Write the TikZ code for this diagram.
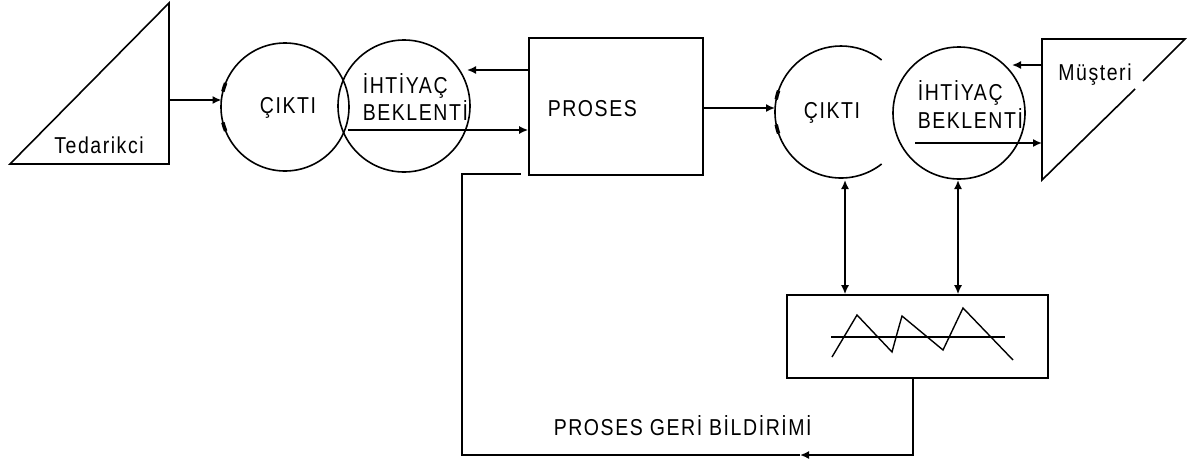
\documentclass[tikz,border=0pt]{standalone}
\usepackage{fontspec}
\setmainfont[LetterSpace=8]{Liberation Sans}
\usetikzlibrary{arrows.meta}
\newcommand{\tall}[1]{\scalebox{1}[1.18]{#1}}
\begin{document}
\begin{tikzpicture}[x=1pt,y=-1pt,line width=1.6pt,
  lbl/.style={font=\fontsize{19.5}{22}\selectfont,inner sep=0pt},
  arr/.style={-{Latex[length=9pt,width=8pt]}},
  darr/.style={{Latex[length=9pt,width=8pt]}-{Latex[length=9pt,width=8pt]}},
  bubble/.style={draw,circle,inner sep=0pt,minimum size=#1},
  box/.style={draw,rectangle,inner sep=0pt},
  notch/.style={line width=3.5pt}]
\useasboundingbox (0,0) rectangle (1199,464);

% Tedarikci
\draw (169,3) -- (10,164) -- (169,164) -- cycle;
\node[lbl] (ted) at (99,145) {\tall{Tedarikci}};
\coordinate (tedOut) at (169,100);

% left circles
\node[bubble=128pt] (c1) at (285,107) {};
\node[bubble=132pt] (c2) at (404,106) {};
\draw[notch] (c1.center) ++(158:64) arc[start angle=158,end angle=166,radius=64];
\draw[notch] (c1.center) ++(194:64) arc[start angle=194,end angle=202,radius=64];
\node[lbl] (c1t) at (288,108) {\tall{ÇIKTI}};
\node[lbl,anchor=west] (c2a) at (362,86) {\tall{İHTİYAÇ}};
\node[lbl,anchor=west] (c2b) at (362,111) {\tall{BEKLENTİ}};
\coordinate (c1in) at (221.5,100);
\coordinate (c2ln) at (348,130);
\coordinate (c2in) at (467,70);

% PROSES
\node[box,minimum width=174pt,minimum height=137pt] (proc) at (616,106.5) {};
\node[lbl,anchor=west] (proct) at (547,109) {\tall{PROSES}};

% right circles
\coordinate (c3) at (841,112);
\draw (c3) ++(52:66) arc[start angle=52,end angle=308,radius=66];
\draw[notch] (c3) ++(161:66) arc[start angle=161,end angle=169,radius=66];
\draw[notch] (c3) ++(191:66) arc[start angle=191,end angle=199,radius=66];
\node[lbl] (c3t) at (832,113) {\tall{ÇIKTI}};
\coordinate (c3in) at (775,108);
\node[bubble=132pt] (c4) at (959,113) {};
\node[lbl,anchor=west] (c4a) at (917,93) {\tall{İHTİYAÇ}};
\node[lbl,anchor=west] (c4b) at (917,119) {\tall{BEKLENTİ}};
\coordinate (c4ln) at (915,143);
\coordinate (c4in) at (1012,65);

% Musteri
\draw (1143,81) -- (1185,39) -- (1042,39) -- (1042,180) -- (1135,89);
\node[lbl] (mus) at (1095,75) {\tall{Müşteri}};
\coordinate (musOut) at (1042,65);
\coordinate (musIn) at (1042,143);

% control chart box
\node[box,minimum width=261pt,minimum height=83pt] (ctrl) at (917.5,336.5) {};
\draw (831,337) -- (1005,337);
\draw[line width=1.4pt] (832,357) -- (857,315) -- (892,352) .. controls (898,330) .. (902,316)
  -- (943,350) -- (963,308) -- (1013,360);

% connectors
\draw[arr] (tedOut) -- (c1in);
\draw[arr] (c2ln) -- (c2ln -| proc.west);
\draw[arr] (proc.west |- c2in) -- (c2in);
\draw[arr] (proc.east |- c3in) -- (c3in);
\draw[arr] (musOut) -- (c4in);
\draw[arr] (c4ln) -- (musIn);
\coordinate (d1) at (845,180);
\coordinate (d2) at (958,180);
\draw[darr] (d1) -- (d1 |- ctrl.north);
\draw[darr] (d2) -- (d2 |- ctrl.north);

% feedback
\coordinate (fb0) at (913,378);
\coordinate (fbD) at (913,455);
\coordinate (fbM) at (800,455);
\coordinate (fbC) at (462,455);
\coordinate (fbB) at (462,174);
\coordinate (fbA) at (521,174);
\draw[arr] (fb0) -- (fbD) -- (fbM);
\draw (fbM) -- (fbC) -- (fbB) -- (fbA);
\node[lbl,anchor=west] (fbt) at (553,426) {\tall{PROSES GERİ BİLDİRİMİ}};
\end{tikzpicture}
\end{document}
